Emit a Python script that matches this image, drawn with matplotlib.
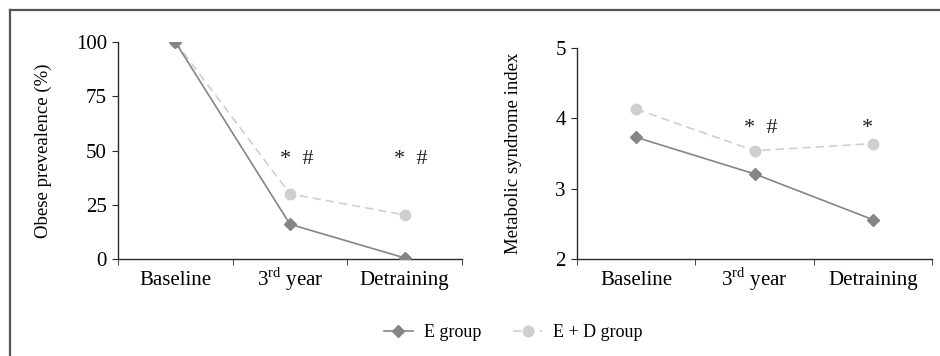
import matplotlib
matplotlib.use("Agg")
import matplotlib.pyplot as plt
from matplotlib.lines import Line2D

plt.rcParams['font.family'] = ['Liberation Serif', 'DejaVu Serif']
plt.rcParams['mathtext.fontset'] = 'custom'
plt.rcParams['mathtext.rm'] = 'Liberation Serif'

# data
categories = ["Baseline", "3$^{\\rm rd}$ year", "Detraining"]
obese_e = [100, 16, 0.5]
obese_ed = [100, 30, 20.3]
msi_e = [3.73, 3.21, 2.56]
msi_ed = [4.13, 3.54, 3.64]

# significance marks: (category index, text)
obese_marks = [(1, "*  #"), (2, "*  #")]
msi_marks = [(1, "*  #"), (2, "*")]

E_COLOR = "#858585"
ED_COLOR = "#cfcfcf"
AX_COLOR = "#2b2b2b"

fig = plt.figure(figsize=(9.4, 3.56), dpi=100)

# outer frame (only left and top visible)
fig.add_artist(Line2D([9.5 / 940, 9.5 / 940], [0, 1 - 10 / 356], transform=fig.transFigure,
                      color="#555555", lw=1.6))
fig.add_artist(Line2D([9.5 / 940, 1], [1 - 10 / 356, 1 - 10 / 356], transform=fig.transFigure,
                      color="#555555", lw=1.6))

ax1 = fig.add_axes([118 / 940, 1 - 259 / 356, 344 / 940, 217 / 356])
ax2 = fig.add_axes([577 / 940, 1 - 259 / 356, 355 / 940, 211 / 356])


def style(ax, e, ed, ylim, yticks, ylabel, marks, mark_y, labelpad):
    x = range(len(categories))
    ax.plot(x, ed, color=ED_COLOR, ls=(0, (5, 3)), lw=1.2, marker="o", ms=7.5,
            mec=ED_COLOR, mfc=ED_COLOR, label="E + D group", zorder=2)
    ax.plot(x, e, color=E_COLOR, lw=1.2, marker="D", ms=6.5,
            mec=E_COLOR, mfc=E_COLOR, label="E group", zorder=3)
    ax.set_xlim(-0.5, 2.5)
    ax.set_ylim(*ylim)
    ax.set_yticks(yticks)
    ax.set_xticks(list(x))
    ax.set_xticklabels(categories, fontsize=15)
    for lab in ax.get_xticklabels():
        lab.set_va("baseline")
    ax.set_xticks([-0.5, 0.5, 1.5, 2.5], minor=True)
    ax.tick_params(axis="x", which="major", length=0, pad=19)
    ax.tick_params(axis="x", which="minor", length=4, direction="out", color=AX_COLOR)
    ax.tick_params(axis="y", labelsize=15, length=4, color=AX_COLOR, pad=4)
    for s in ["top", "right"]:
        ax.spines[s].set_visible(False)
    for s in ["left", "bottom"]:
        ax.spines[s].set_color(AX_COLOR)
        ax.spines[s].set_linewidth(1.0)
    ax.set_ylabel(ylabel, fontsize=13.5, labelpad=labelpad)
    for i, txt in marks:
        ax.text(i - 0.09, mark_y, txt, ha="left", va="center", fontsize=16, color="#222222")


style(ax1, obese_e, obese_ed, (0, 100), [0, 25, 50, 75, 100],
      "Obese prevealence (%)", obese_marks, 46, 17)
style(ax2, msi_e, msi_ed, (2, 5), [2, 3, 4, 5],
      "Metabolic syndrome index", msi_marks, 3.85, 24)

handles = [ax1.lines[1], ax1.lines[0]]
fig.legend(handles, ["E group", "E + D group"], loc="center", bbox_to_anchor=(0.546, 0.066),
           ncol=2, frameon=False, fontsize=13, handlelength=1.6, columnspacing=1.8,
           handletextpad=0.6)

fig.savefig("out.png", dpi=100)
